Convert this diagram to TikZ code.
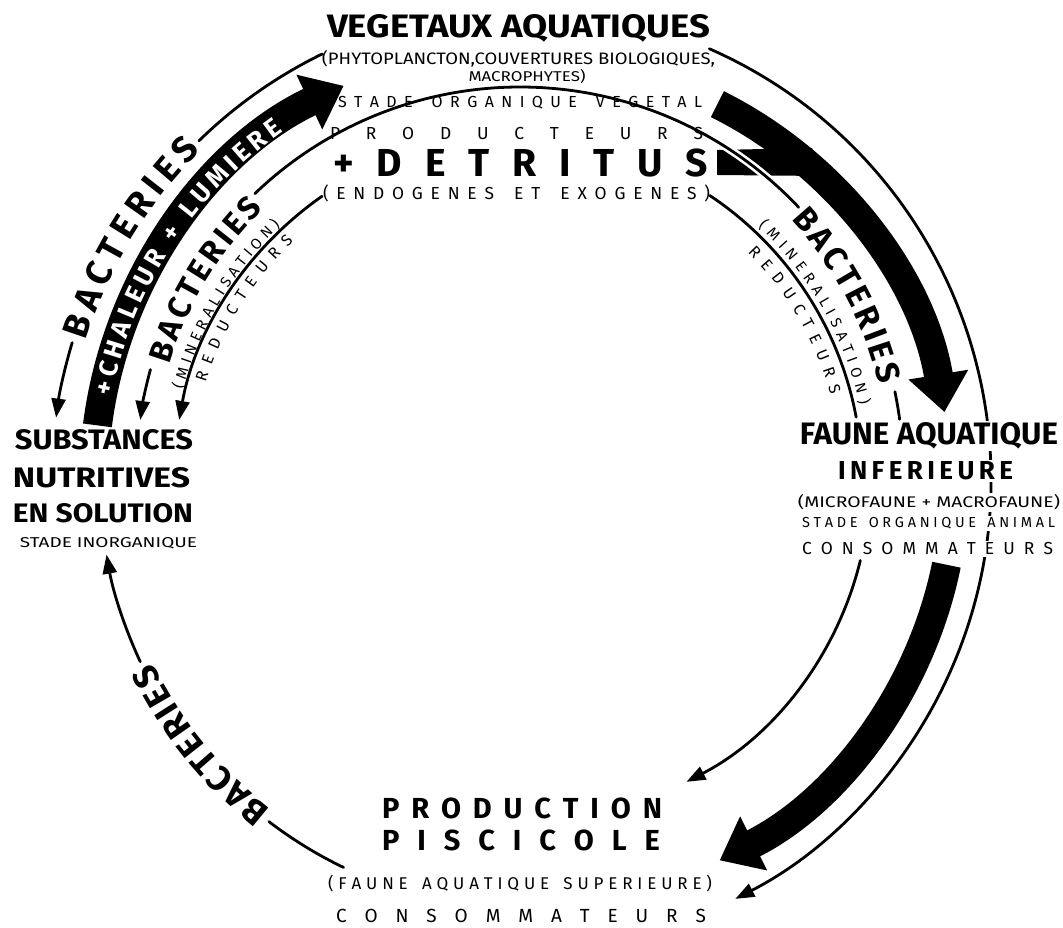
\documentclass[tikz,border=0pt]{standalone}
\usepackage{fontspec}
\setmainfont{Fira Sans}
\usetikzlibrary{calc,arrows.meta,decorations.text}
\def\myspreadEnd{MYSPREADEND}
\def\myspread#1{\myspreadA#1\myspreadEnd}
\def\myspreadA#1{#1\myspreadB}
\def\myspreadB#1{\ifx\myspreadEnd#1\else\hfil#1\expandafter\myspreadB\fi}
\begin{document}
\begin{tikzpicture}[x=1pt,y=1pt,
  thinline/.style={line width=2.8pt,line cap=round},
  tipA/.style={-{Triangle[length=19pt,width=14pt]}},
  bandline/.style={line width=29pt},
  tipB/.style={-{Triangle[length=38pt,width=58pt]}},
  lbl/.style={inner sep=0pt,anchor=base},
  wlbl/.style={anchor=base,inner sep=1.5pt,fill=white}]
\fill[white] (0,0) rectangle (1063,927);
\useasboundingbox (0,0) rectangle (1063,927);
\coordinate (C) at (530,447);
\coordinate (M) at (520,457);
\coordinate (I) at (520,447);
% ---------- outer left arc
\coordinate (oL1) at ($(C)+(116:474)$);
\coordinate (oLt) at ($(C)+(162.5:478)$);
\coordinate (oL2) at ($(C)+(163.3:478)$);
\draw[thinline] (oL1) arc[start angle=116,end angle=134.3,radius=474];
\path[decorate,decoration={text along path,text align={fit to path},raise=-12.5pt,
  text={|\bfseries\fontsize{36}{36}\selectfont|BACTERIES}}]
  (oLt) arc[start angle=162.5,end angle=135,radius=478];
\draw[thinline,tipA] (oL2) arc[start angle=163.3,end angle=172.5,radius=478];
% ---------- left band
\coordinate (bL1) at ($(C)+(172.8:436)$);
\coordinate (bLt) at ($(C)+(168.7:436)$);
\draw[bandline,tipB] (bL1) arc[start angle=172.8,end angle=115.3,radius=436];
\path[decorate,decoration={text along path,text align={fit to path},raise=-9pt,
  text={|\color{white}\bfseries\fontsize{26}{26}\selectfont|+CHALEUR + LUMIERE}}]
  (bLt) arc[start angle=168.7,end angle=125.3,radius=436];
% ---------- right band + branch from detritus
\coordinate (bR1) at ($(C)+(63.5:420)$);
\draw[bandline,tipB] (bR1) arc[start angle=63.5,end angle=9.3,radius=420];
\fill (717,777) -- (812,779) -- (822,751) -- (717,752) -- cycle;
% ---------- middle arc
\coordinate (mL1) at ($(M)+(164.8:383)$);
\draw[thinline,tipA] (mL1) arc[start angle=164.8,end angle=172.5,radius=383];
\coordinate (mLt) at ($(M)+(163.2:366)$);
\path[decorate,decoration={text along path,text align={fit to path},
  text={|\bfseries\fontsize{32}{32}\selectfont|BACTERIES}}]
  (mLt) arc[start angle=163.2,end angle=134.5,radius=366];
\coordinate (mT1) at ($(M)+(133.8:383)$);
\draw[thinline,preaction={draw=white,line width=8pt}] (mT1) arc[start angle=133.8,end angle=43.3,radius=383];
\coordinate (mRt) at ($(M)+(42.7:369)$);
\path[decorate,decoration={text along path,text align={fit to path},
  text={|\bfseries\fontsize{33}{33}\selectfont|BACTERIES}}]
  (mRt) arc[start angle=42.7,end angle=13.3,radius=369];
\coordinate (mR1) at ($(M)+(11.8:383)$);
\draw[thinline] (mR1) arc[start angle=11.8,end angle=7.6,radius=383];
% ---------- inner arcs
\coordinate (iL1) at ($(I)+(124.9:346)$);
\draw[thinline,tipA] (iL1) arc[start angle=124.9,end angle=170,radius=346];
\coordinate (iLm) at ($(I)+(165:349)$);
\path[decorate,decoration={text along path,text align={fit to path},
  text={|\fontsize{15}{15}\selectfont|(MINERALISATION)}}]
  (iLm) arc[start angle=165,end angle=133.3,radius=349];
\coordinate (iLr) at ($(I)+(162.8:329)$);
\path[decorate,decoration={text along path,text align={fit to path},
  text={|\fontsize{16}{16}\selectfont|REDUCTEURS}}]
  (iLr) arc[start angle=162.8,end angle=133.5,radius=329];
\coordinate (iR1) at ($(I)+(56.3:342)$);
\draw[thinline] (iR1) arc[start angle=56.3,end angle=10.6,radius=342];
\coordinate (iRm) at ($(I)+(46.8:348)$);
\path[decorate,decoration={text along path,text align={fit to path},
  text={|\fontsize{15}{15}\selectfont|(MINERALISATION)}}]
  (iRm) arc[start angle=46.8,end angle=12.5,radius=348];
\coordinate (iRr) at ($(I)+(45:322)$);
\path[decorate,decoration={text along path,text align={fit to path},
  text={|\fontsize{16}{16}\selectfont|REDUCTEURS}}]
  (iRr) arc[start angle=45,end angle=15.3,radius=322];
% ---------- bottom right
\coordinate (bB1) at ($(C)+(-11.5:425)$);
\draw[bandline,tipB] (bB1) arc[start angle=-11.5,end angle=-63.5,radius=425];
\coordinate (tB1) at ($(C)+(-13.7:340)$);
\draw[thinline,tipA] (tB1) arc[start angle=-13.7,end angle=-62.6,radius=340];
\coordinate (oR1) at ($(I)+(66.3:471)$);
\draw[thinline,tipA] (oR1) arc[start angle=66.3,end angle=-62.8,radius=471];
% ---------- bottom left
\coordinate (bl1) at ($(C)+(244.3:430)$);
\draw[thinline] (bl1) arc[start angle=244.3,end angle=232.6,radius=430];
\coordinate (blt) at ($(C)+(231.8:419)$);
\path[decorate,decoration={text along path,text align={fit to path},
  text={|\bfseries\fontsize{35}{35}\selectfont|BACTERIES}}]
  (blt) arc[start angle=231.8,end angle=205.8,radius=419];
\coordinate (bl2) at ($(C)+(205:430)$);
\draw[thinline,tipA] (bl2) arc[start angle=205,end angle=190,radius=430];
% ---------- texts top
\node[lbl] (veg) at (518.5,889) {\resizebox{383pt}{23pt}{\bfseries VEGETAUX AQUATIQUES}};
\node[lbl] (phyto) at (518.5,862) {\resizebox{393pt}{14pt}{(PHYTOPLANCTON,COUVERTURES BIOLOGIQUES,}};
\node[lbl] (macro) at (527,845) {\resizebox{117pt}{12pt}{MACROPHYTES)}};
\node[lbl] (stadeveg) at (520,819) {\fontsize{16}{16}\selectfont\makebox[364pt][s]{\myspread{STADE~ORGANIQUE~VEGETAL}}};
\node[lbl] (produc) at (516.5,787) {\fontsize{17.4}{17.4}\selectfont\makebox[373pt][s]{\myspread{PRODUCTEURS}}};
\node[lbl] (detr) at (520.5,750) {\bfseries\fontsize{39}{39}\selectfont\makebox[374pt][s]{\myspread{+DETRITUS}}};
\node[lbl] (endo) at (516.5,727) {\fontsize{17.4}{17.4}\selectfont\makebox[387pt][s]{\myspread{(ENDOGENES~ET~EXOGENES)}}};
% ---------- texts left
\node[lbl] (subst) at (104,477) {\resizebox{178pt}{20pt}{\bfseries SUBSTANCES}};
\node[lbl] (nutri) at (101.5,439) {\resizebox{177pt}{20pt}{\bfseries NUTRITIVES}};
\node[lbl] (ensol) at (103,404) {\resizebox{180pt}{19pt}{\bfseries EN SOLUTION}};
\node[lbl] (inorg) at (108.5,379) {\resizebox{177pt}{10pt}{STADE INORGANIQUE}};
% ---------- texts right
\node[wlbl] (faune) at (929,482) {\resizebox{258pt}{22pt}{\bfseries FAUNE AQUATIQUE}};
\node[wlbl] (infer) at (925.5,447) {\bfseries\fontsize{26}{26}\selectfont\makebox[175pt][s]{\myspread{INFERIEURE}}};
\node[wlbl] (micro) at (929,419) {\resizebox{262pt}{13pt}{(MICROFAUNE + MACROFAUNE)}};
\node[wlbl] (stadeanim) at (928.5,399) {\fontsize{14.5}{14.5}\selectfont\makebox[253pt][s]{\myspread{STADE~ORGANIQUE~ANIMAL}}};
\node[wlbl] (consomA) at (927.5,372) {\fontsize{17.4}{17.4}\selectfont\makebox[251pt][s]{\myspread{CONSOMMATEURS}}};
% ---------- texts bottom
\node[lbl] (prodn) at (522,109) {\bfseries\fontsize{29}{29}\selectfont\makebox[280pt][s]{\myspread{PRODUCTION}}};
\node[lbl] (pisci) at (521,77) {\bfseries\fontsize{29}{29}\selectfont\makebox[278pt][s]{\myspread{PISCICOLE}}};
\node[lbl] (fsup) at (520,38) {\fontsize{17}{17}\selectfont\makebox[384pt][s]{\myspread{(FAUNE~AQUATIQUE~SUPERIEURE)}}};
\node[lbl] (consomB) at (521,5) {\fontsize{19}{19}\selectfont\makebox[370pt][s]{\myspread{CONSOMMATEURS}}};
\end{tikzpicture}
\end{document}
